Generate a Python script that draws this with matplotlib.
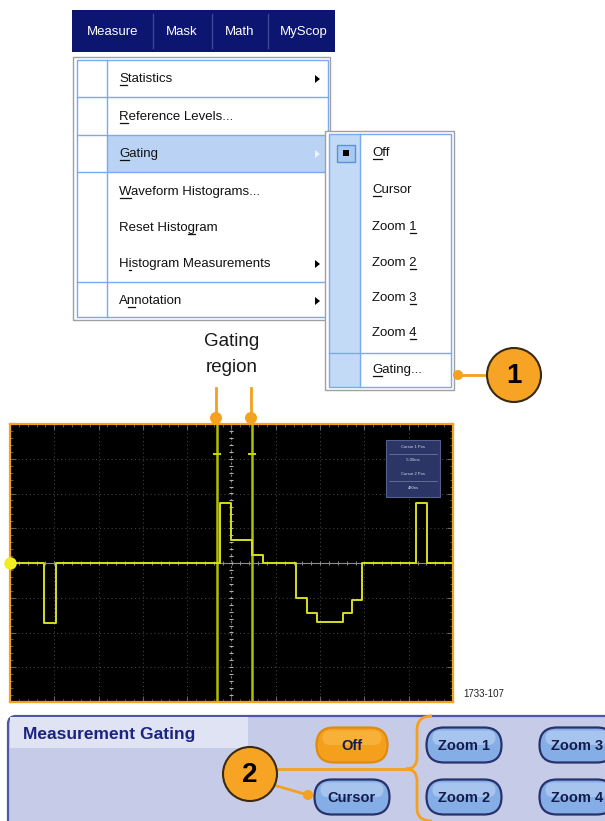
import matplotlib
matplotlib.use('Agg')
from matplotlib import pyplot as plt
from matplotlib.patches import Rectangle, FancyBboxPatch, Circle, Polygon, PathPatch
from matplotlib.path import Path
import numpy as np

plt.rcParams['font.family'] = ['Liberation Sans', 'DejaVu Sans']

# --- data -------------------------------------------------------------
menu_bar_items = ['Measure', 'Mask', 'Math', 'MyScop']
menu_items = ['Statistics', 'Reference Levels...', 'Gating', 'Waveform Histograms...',
              'Reset Histogram', 'Histogram Measurements', 'Annotation']
menu_keys = [0, 0, 0, 0, 11, 1, 1]          # underlined character index
menu_arrows = [True, False, True, False, False, True, True]
submenu_items = ['Off', 'Cursor', 'Zoom 1', 'Zoom 2', 'Zoom 3', 'Zoom 4', 'Gating...']
submenu_keys = [0, 0, 5, 5, 5, 5, 0]
panel_buttons = ['Off', 'Cursor', 'Zoom 1', 'Zoom 2', 'Zoom 3', 'Zoom 4']
readout_rows = ['Cursor 1 Pos', '-5.00ms', 'Cursor 2 Pos', '480ns']

# waveform (divisions): step edges and levels
trace_t = [-5.0, -4.23, -3.96, -0.26, 0.0, 0.46, 0.71, 1.46, 1.70, 1.93, 2.52, 2.72, 2.95, 4.16, 4.41, 5.0]
trace_v = [0.0, -1.73, 0.0, 1.73, 0.66, 0.23, 0.0, -1.00, -1.44, -1.70, -1.44, -1.06, 0.0, 1.73, 0.0, 0.0]
gate_t = [-0.33, 0.46]

ORANGE = '#f5a01e'
NAVY = '#0c1670'


def callout(ax, x, y, num):
    ax.add_patch(Circle((x, y), 27, fc='#f7a424', ec='#3a2b10', lw=1.5, zorder=6))
    ax.text(x, y + 1, num, fontsize=20, fontweight='bold', ha='center', va='center', zorder=7)


def button(ax, cx, cy, w, h, label, fc, top, ec):
    ax.add_patch(FancyBboxPatch((cx - w / 2, cy - h / 2), w, h,
                                boxstyle='round,pad=0,rounding_size=%g' % (h / 2),
                                fc=fc, ec=ec, lw=1.6, zorder=3))
    ax.add_patch(FancyBboxPatch((cx - w / 2 + 6, cy - h / 2 + 3), w - 12, h / 2 - 3,
                                boxstyle='round,pad=0,rounding_size=%g' % ((h / 2 - 3) / 2),
                                fc=top, ec='none', alpha=0.45, zorder=3))
    ax.text(cx, cy + 1, label, fontsize=10.5, fontweight='bold', color='#141c4c',
            ha='center', va='center', zorder=4)


def menu_text(ax, renderer, x, y, label, key, zorder=5):
    ax.text(x, y, label, fontsize=9.5, color='#111111', ha='left', va='center', zorder=zorder)
    # underline of the access key, placed from measured text widths (1 unit = 1 px)
    pre = ax.text(0, 0, label[:key], fontsize=9.5)
    cur = ax.text(0, 0, label[:key + 1], fontsize=9.5)
    x0 = x + (pre.get_window_extent(renderer).width if key else 0) + 0.5
    x1 = x + cur.get_window_extent(renderer).width - 0.5
    pre.remove()
    cur.remove()
    ax.plot([x0, x1], [y + 6.5, y + 6.5], color='#111111', lw=0.9, zorder=zorder)


def main():
    fig = plt.figure(figsize=(6.05, 8.21), dpi=100)
    ax = fig.add_axes([0, 0, 1, 1])
    ax.set_xlim(0, 605)
    ax.set_ylim(821, 0)
    ax.axis('off')
    renderer = fig.canvas.get_renderer()

    # menu bar
    bar = Rectangle((72, 10), 263, 42, fc=NAVY, ec='none')
    ax.add_patch(bar)
    for sx in [153, 212, 268]:
        ax.plot([sx, sx], [14, 48], color='#3b4795', lw=1)
    for label, x, ha in zip(menu_bar_items, [113, 182, 240, 280], ['center', 'center', 'center', 'left']):
        t = ax.text(x, 32, label, color='white', fontsize=9.5, ha=ha, va='center')
        t.set_clip_path(bar)

    # dropdown menu
    ax.add_patch(Rectangle((73, 57), 257, 263, fc='white', ec='#a0a0a0', lw=1))
    ax.add_patch(Rectangle((108, 135), 218, 37, fc='#bad3f4', ec='none'))
    ax.add_patch(Rectangle((77, 60), 251, 257, fc='none', ec='#7aa8f2', lw=1))
    ax.plot([107, 107], [60, 317], color='#7aa8f2', lw=1)
    for sy in [97, 135, 172, 282]:
        ax.plot([77, 328], [sy, sy], color='#7aa8f2', lw=1)
    row_y = [79, 117, 154, 192, 228, 264, 301]
    for label, key, y, arr in zip(menu_items, menu_keys, row_y, menu_arrows):
        menu_text(ax, renderer, 119, y, label, key, zorder=2)
        if arr:
            c = '#eef4fd' if label == 'Gating' else 'black'
            ax.add_patch(Polygon([(315, y - 4), (315, y + 4), (320, y)], fc=c, ec='none'))

    # submenu
    ax.add_patch(Rectangle((325, 131), 129, 259, fc='white', ec='#a0a0a0', lw=1, zorder=4))
    ax.add_patch(Rectangle((329, 134), 31, 253, fc='#c3daf6', ec='none', zorder=4))
    ax.add_patch(Rectangle((329, 134), 122, 253, fc='none', ec='#7aa8f2', lw=1, zorder=4))
    ax.plot([360, 360], [134, 387], color='#7aa8f2', lw=1, zorder=4)
    ax.plot([329, 451], [353, 353], color='#7aa8f2', lw=1, zorder=4)
    ax.add_patch(Rectangle((337, 145), 18, 17, fc='#a9c9f1', ec='#5b8fd9', lw=1, zorder=5))
    ax.add_patch(Rectangle((343, 150), 6, 6, fc='black', ec='none', zorder=5))
    for label, key, y in zip(submenu_items, submenu_keys, [153, 190, 227, 263, 298, 333, 370]):
        menu_text(ax, renderer, 372, y, label, key, zorder=5)

    # callout 1
    ax.plot([458, 490], [375, 375], color=ORANGE, lw=2, zorder=5)
    ax.add_patch(Circle((458, 375), 5, fc=ORANGE, ec='none', zorder=5))
    callout(ax, 514, 375, '1')

    # gating region label
    ax.text(232, 342, 'Gating', fontsize=13.5, ha='center', va='center', color='#1a1a1a')
    ax.text(232, 368, 'region', fontsize=13.5, ha='center', va='center', color='#1a1a1a')
    for gx in [216, 251]:
        ax.plot([gx, gx], [388, 418], color=ORANGE, lw=2)
        ax.add_patch(Circle((gx, 418), 6, fc=ORANGE, ec='none'))

    ax.text(463, 694, '1733-107', fontsize=7, ha='left', va='center', color='#222222')

    # bottom panel
    ax.add_patch(FancyBboxPatch((8, 716), 620, 130, boxstyle='round,pad=0,rounding_size=8',
                                fc='#c6cbe8', ec='#4d57a3', lw=1.6))
    ax.add_patch(Rectangle((9.5, 717.5), 238, 31, fc='#e0e3f3', ec='none'))
    ax.text(23, 734, 'Measurement Gating', fontsize=12.5, fontweight='bold',
            color='#1b2480', ha='left', va='center')
    btn_pos = [(352, 745), (352, 797), (464, 745), (464, 797), (577, 745), (577, 797)]
    for label, (bx, by) in zip(panel_buttons, btn_pos):
        if label == 'Off':
            button(ax, bx, by, 71, 35, label, '#f4a01c', '#fcc65e', '#e08a10')
        else:
            button(ax, bx, by, 75, 35, label, '#86aee6', '#cfe0f7', '#27326d')

    # brace + callout 2
    verts = [(432, 716), (417, 716), (417, 730), (417, 757), (417, 769), (406, 769),
             (417, 769), (417, 781), (417, 808), (417, 821), (432, 821)]
    codes = [Path.MOVETO, Path.CURVE3, Path.CURVE3, Path.LINETO, Path.CURVE3, Path.CURVE3,
             Path.CURVE3, Path.CURVE3, Path.LINETO, Path.CURVE3, Path.CURVE3]
    ax.add_patch(PathPatch(Path(verts, codes), fc='none', ec=ORANGE, lw=2, zorder=5))
    ax.plot([270, 408], [769, 769], color=ORANGE, lw=2, zorder=5)
    ax.plot([270, 308], [784, 795], color=ORANGE, lw=2, zorder=5)
    ax.add_patch(Circle((308, 795), 5, fc=ORANGE, ec='none', zorder=5))
    callout(ax, 250, 774, '2')

    # oscilloscope screen
    sc = fig.add_axes([10 / 605, (821 - 702) / 821, 443 / 605, 278 / 821])
    sc.set_facecolor('black')
    sc.set_xlim(-5, 5)
    sc.set_ylim(-4, 4)
    for sp in sc.spines.values():
        sp.set_color(ORANGE)
        sp.set_linewidth(1.6)
    sc.set_xticks(range(-5, 6))
    sc.set_yticks(range(-4, 5))
    sc.set_xticks(np.arange(-5, 5.01, 0.2), minor=True)
    sc.set_yticks(np.arange(-4, 4.01, 0.2), minor=True)
    sc.tick_params(which='both', direction='in', colors='#6a6a6a', top=True, right=True,
                   labelbottom=False, labelleft=False)
    sc.tick_params(which='major', length=4)
    sc.tick_params(which='minor', length=2)
    for i in range(-4, 5):
        sc.axvline(i, color='#4c4c4c', lw=0.7, ls=(0, (1, 3)))
    for j in range(-3, 4):
        sc.axhline(j, color='#4c4c4c', lw=0.7, ls=(0, (1, 3)))
    sc.axhline(0, color='#8c8c8c', lw=0.8)
    sc.axvline(0, color='#8a8a8a', lw=0.8, ls=(0, (1.5, 4)))
    minor_x = np.arange(-5, 5.01, 0.2)
    minor_y = np.arange(-4, 4.01, 0.2)
    sc.plot(minor_x, np.zeros_like(minor_x), ls='none', marker='|', ms=3, color='#8c8c8c', mew=0.7)
    sc.plot(np.zeros_like(minor_y), minor_y, ls='none', marker='_', ms=3, color='#b0b0b0', mew=0.8)

    for g in gate_t:
        sc.axvline(g, color='#b2be00', lw=1.8)
        sc.plot([g - 0.06, g + 0.06], [3.14, 3.14], color='#c8d400', lw=1.5)
    sc.plot(trace_t, trace_v, drawstyle='steps-post', color='#d6de1f', lw=1.4)
    sc.plot([-5], [0], 'o', color='#f0ee1e', ms=8, clip_on=False, zorder=6)

    # readout box
    sc.add_patch(Rectangle((3.49, 1.9), 1.22, 1.64, fc='#2b3566', ec='#56608f', lw=0.8, zorder=5))
    for k, txt in enumerate(readout_rows):
        yy = 3.34 - k * 0.39
        sc.text(4.10, yy, txt, fontsize=3, color='#d8dcf0', ha='center', va='center', zorder=6)
        if k in (0, 2):
            sc.plot([3.55, 4.65], [yy - 0.2, yy - 0.2], color='#7a84b0', lw=0.5, zorder=6)

    fig.savefig('out.png', dpi=100)


if __name__ == "__main__":
    main()
